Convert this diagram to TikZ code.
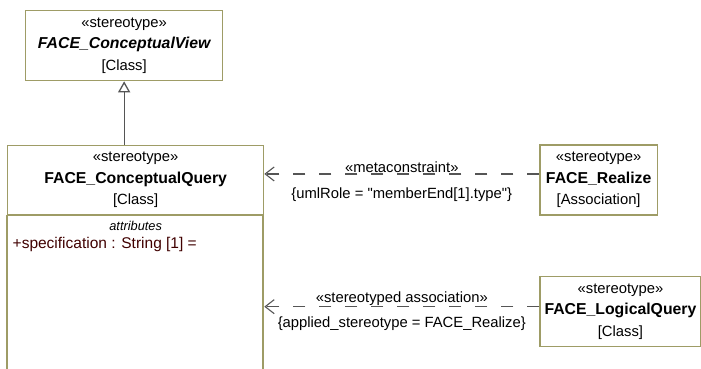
\documentclass[tikz,border=0pt]{standalone}
\usepackage{fontspec}
\setmainfont{Liberation Sans}
\usetikzlibrary{arrows.meta}

\definecolor{umlborder}{RGB}{158,156,102}
\definecolor{umlline}{RGB}{85,85,85}
\definecolor{attrtext}{RGB}{64,0,0}

\newcommand{\umlname}[1]{{\fontsize{15.8}{21.5}\selectfont\bfseries #1}}

\tikzset{
  umlbox/.style={draw=umlborder, line width=1.3pt, fill=white, inner sep=0pt,
    anchor=north west, align=center, font=\fontsize{14.8}{21.5}\selectfont},
  gen/.style={draw=umlline, line width=1.3pt, -{Triangle[open, length=11pt, width=12pt]}},
  dep/.style={draw=umlline, line width=1.1pt, dash pattern=on 12pt off 14pt,
    -{Straight Barb[length=9pt, width=14pt]}},
  deplabel/.style={font=\fontsize{14.8}{17}\selectfont, inner sep=2pt},
}

\begin{document}
\begin{tikzpicture}[x=1pt, y=-1pt]

    \useasboundingbox (0, 0) rectangle (701, 368);

    % --- boxes ---
    \node[umlbox, minimum width=197pt, minimum height=70pt] (view) at (25, 10)
      {«stereotype»\\ \umlname{\itshape FACE\_ConceptualView}\\ {[Class]}};

    \node[umlbox, minimum width=256pt, minimum height=69.6pt] (query) at (7, 144.7)
      {«stereotype»\\ \umlname{FACE\_ConceptualQuery}\\ {[Class]}};
    \draw[umlborder, line width=1.3pt] (query.south west) rectangle ++(256, 190);
    \node[font=\fontsize{12.8}{14}\selectfont\itshape, below=2pt] (attrs) at (query.south) {attributes};
    \node[font=\fontsize{15.5}{17}\selectfont, text=attrtext, anchor=west, inner sep=0pt] (spec)
      at (12.5, 244.3) {+specification : String [1] =};

    \node[umlbox, minimum width=117.4pt, minimum height=70pt] (realize) at (539.3, 144.3)
      {«stereotype»\\ \umlname{FACE\_Realize}\\ {[Association]}};

    \node[umlbox, minimum width=161pt, minimum height=70pt] (logical) at (539.3, 276)
      {«stereotype»\\ \umlname{FACE\_LogicalQuery}\\ {[Class]}};

    % --- connectors ---
    \draw[gen] (view.south |- query.north) -- (view.south);

    \draw[dep] ([yshift=6pt]realize.west) -- ([yshift=6pt]realize.west -| query.east)
      node[deplabel, midway, above=-1pt] {«metaconstraint»}
      node[deplabel, midway, below=11pt] {\{umlRole = \textquotedbl memberEnd[1].type\textquotedbl\}};

    \draw[dep] ([yshift=5pt]logical.west) -- ([yshift=5pt]logical.west -| query.east)
      node[deplabel, midway, above=-1pt] {«stereotyped association»}
      node[deplabel, midway, below=8pt] {\{applied\_stereotype = FACE\_Realize\}};

\end{tikzpicture}
\end{document}
